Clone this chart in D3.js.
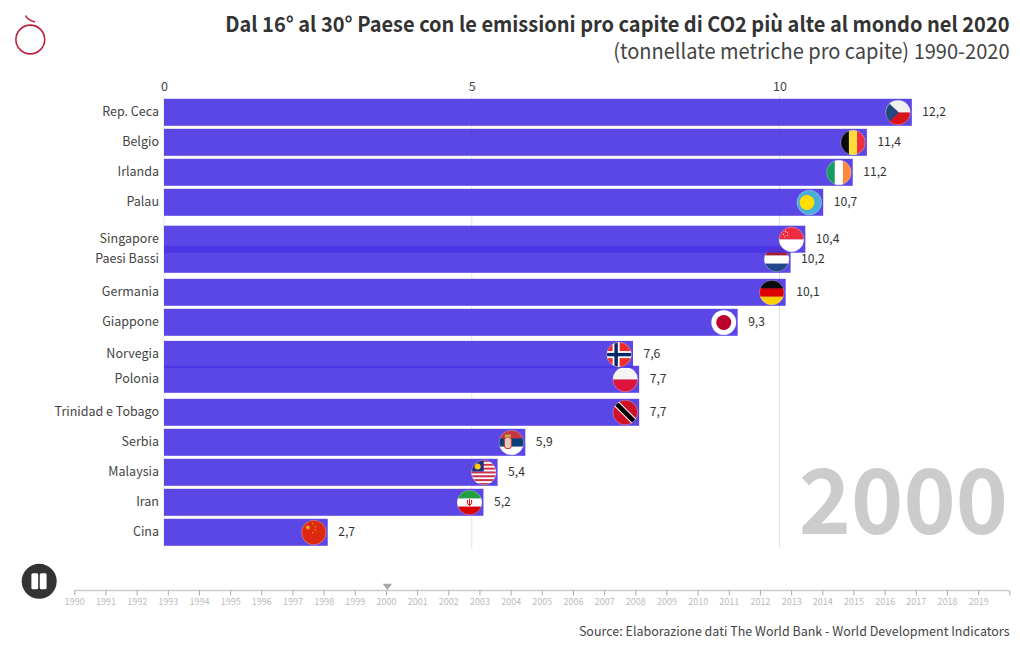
<!DOCTYPE html>
<html><head><meta charset="utf-8">
<script src="https://cdn.jsdelivr.net/npm/d3@7/dist/d3.min.js"></script>
<style>
html,body{margin:0;padding:0;background:#fff;overflow:hidden}
svg{display:block}
text{font-family:"Noto Sans CJK SC","Noto Sans",sans-serif}
</style></head><body><svg id="c" width="1020" height="650"></svg>
<script>
const countries=["Rep. Ceca","Belgio","Irlanda","Palau","Singapore","Paesi Bassi","Germania","Giappone","Norvegia","Polonia","Trinidad e Tobago","Serbia","Malaysia","Iran","Cina"];
const values=[12.15,11.42,11.19,10.71,10.42,10.18,10.1,9.32,7.62,7.72,7.72,5.87,5.42,5.19,2.66];
const valueLabels=["12,2","11,4","11,2","10,7","10,4","10,2","10,1","9,3","7,6","7,7","7,7","5,9","5,4","5,2","2,7"];
const ranks=[0,1,2,3,4.23,4.9,6,7,8.07,8.9,10,11,12,13,14];
const flagKeys=["cz","be","ie","pw","sg","nl","de","jp","no","pl","tt","rs","my","ir","cn"];
const axisTicks=[0,5,10];
const timelineYears=d3.range(1990,2021);
const currentYear=2000;

const svg=d3.select("#c");
const x=d3.scaleLinear().domain([0,10]).range([164,779.5]);
const y=d3.scaleLinear().domain([0,14]).range([112.3,532.3]);
const t=d3.scaleLinear().domain([1990,2020]).range([74.3,1009.3]);
const barH=27, flagR=12.3;

// narrow text horizontally so the wider installed Latin matches the reference set width
function squeeze(sel,f){sel.each(function(){const e=d3.select(this),a=+e.attr("x"),b=+e.attr("y");e.attr("x",0).attr("y",0).attr("transform",`translate(${a},${b}) scale(${f},1)`);});return sel;}

// title
const title=svg.append("g").attr("text-anchor","end");
squeeze(title.append("text").attr("x",1009.5).attr("y",32).attr("font-size",21).attr("font-weight",700).attr("fill","#333").text("Dal 16° al 30° Paese con le emissioni pro capite di CO2 più alte al mondo nel 2020"),.952);
squeeze(title.append("text").attr("x",1009.5).attr("y",59).attr("font-size",21).attr("fill","#444").text("(tonnellate metriche pro capite) 1990-2020"),.954);

// logo
const logo=svg.append("g").attr("fill","none").attr("stroke","#c2203f").attr("stroke-width",1.6);
logo.append("circle").attr("cx",30.3).attr("cy",39.5).attr("r",14.4);
logo.append("path").attr("d","M25.5 15.5Q27.5 20 35 22");

// grid + axis
const grid=svg.append("g");
grid.selectAll("line").data(axisTicks).join("line")
 .attr("x1",d=>x(d)).attr("x2",d=>x(d)).attr("y1",96).attr("y2",548).attr("stroke","#e2e2e2");
const ax=svg.append("g").attr("transform","translate(0,96)").call(d3.axisTop(x).tickValues(axisTicks).tickSize(0).tickPadding(5).tickFormat(d3.format("d")));
ax.select(".domain").remove();
ax.selectAll("text").attr("font-size",12.5).attr("fill","#444").style("font-family",'"Noto Sans CJK SC"');

// flags
const F=13;
function box(g,c){g.append("rect").attr("x",-F).attr("y",-F).attr("width",2*F).attr("height",2*F).attr("fill",c);}
function stripesH(g,cols){const h=2*flagR/cols.length;cols.forEach((c,i)=>g.append("rect").attr("x",-F).attr("y",-flagR+i*h).attr("width",2*F).attr("height",h+.3).attr("fill",c));}
function stripesV(g,cols){const w=2*flagR/cols.length;cols.forEach((c,i)=>g.append("rect").attr("x",-flagR+i*w).attr("y",-F).attr("width",w+.3).attr("height",2*F).attr("fill",c));}
function star(g,cx,cy,r,fill){const p=d3.range(10).map(i=>{const a=-Math.PI/2+i*Math.PI/5,q=i%2?r*.42:r;return [cx+q*Math.cos(a),cy+q*Math.sin(a)].join(",")}).join(" ");g.append("polygon").attr("points",p).attr("fill",fill);}
const flags={
 cz(g){stripesH(g,["#f0f0f0","#d7141a"]);g.append("path").attr("d","M-13-13L1 0L-13 13Z").attr("fill","#24477f");},
 be(g){stripesV(g,["#0b0b0b","#fbdc3c","#ee2f3c"]);},
 ie(g){stripesV(g,["#169b62","#fff","#ff883e"]);},
 pw(g){box(g,"#4aaed9");g.append("circle").attr("cx",-2.3).attr("cy",0).attr("r",7.4).attr("fill","#ffde00");},
 sg(g){stripesH(g,["#ef2b40","#fff"]);[[-8,-5],[-6,-8],[-4,-7],[-4,-4],[-7,-2.5]].forEach(p=>g.append("circle").attr("cx",p[0]).attr("cy",p[1]).attr("r",.7).attr("fill","#fbd5d5"));},
 nl(g){stripesH(g,["#ae1c28","#fff","#21468b"]);},
 de(g){stripesH(g,["#0b0b0b","#dd0000","#ffce00"]);},
 jp(g){box(g,"#fff");g.append("circle").attr("r",7.5).attr("fill","#bc002d");},
 no(g){box(g,"#ef2b2d");g.append("rect").attr("x",-6.5).attr("y",-13).attr("width",7).attr("height",26).attr("fill","#fff");g.append("rect").attr("x",-13).attr("y",-3.5).attr("width",26).attr("height",7).attr("fill","#fff");g.append("rect").attr("x",-4.7).attr("y",-13).attr("width",3.4).attr("height",26).attr("fill","#002868");g.append("rect").attr("x",-13).attr("y",-1.7).attr("width",26).attr("height",3.4).attr("fill","#002868");},
 pl(g){stripesH(g,["#f4f4f4","#dc143c"]);},
 tt(g){box(g,"#ce1126");g.append("path").attr("d","M-12-12L12 12").attr("stroke","#fff").attr("stroke-width",6.6);g.append("path").attr("d","M-12-12L12 12").attr("stroke","#000").attr("stroke-width",4.6);},
 rs(g){stripesH(g,["#c6363c","#0c4076","#fff"]);g.append("rect").attr("x",-7).attr("y",-5).attr("width",7).attr("height",11).attr("rx",2.5).attr("fill","#e7c9b8").attr("stroke","#c6363c").attr("stroke-width",1);g.append("rect").attr("x",-6.5).attr("y",-8).attr("width",6).attr("height",3).attr("fill","#c9a24a");},
 my(g){const n=13,h=25/n;d3.range(n).forEach(i=>g.append("rect").attr("x",-13).attr("y",-12.5+i*h).attr("width",26).attr("height",h+.2).attr("fill",i%2?"#fff":"#d83040"));g.append("rect").attr("x",-13).attr("y",-13).attr("width",13).attr("height",12).attr("fill","#1a2f7f");g.append("circle").attr("cx",-6).attr("cy",-6).attr("r",3).attr("fill","#ffc50f");},
 ir(g){stripesH(g,["#239f40","#fff","#da0000"]);g.append("path").attr("d","M0-3.5V3.5M-2-2.5Q-3.4 1 0 3M2-2.5Q3.4 1 0 3").attr("fill","none").attr("stroke","#da0000").attr("stroke-width",1);},
 cn(g){box(g,"#de2910");star(g,-6,-5,3,"#e8b81c");star(g,-1,-9,1.1,"#e8b81c");star(g,1.5,-6,1.1,"#e8b81c");star(g,1.5,-2.5,1.1,"#e8b81c");star(g,-1,0,1.1,"#e8b81c");}
};
svg.append("defs").append("clipPath").attr("id","fc").append("circle").attr("r",flagR);

// rows: each bar + flag painted together, lowest rows first, so a later bar tints the flag it overlaps
const rows=countries.map((c,i)=>({c,v:values[i],l:valueLabels[i],r:ranks[i],f:flagKeys[i]})).reverse();
const gr=svg.append("g").selectAll("g").data(rows).join("g");
gr.append("rect")
 .attr("x",x(0)).attr("width",d=>x(d.v)-x(0)).attr("y",d=>y(d.r)-barH/2).attr("height",barH)
 .attr("fill","#4933e3").attr("fill-opacity",.9);
const fg=gr.append("g").attr("transform",d=>`translate(${x(d.v)-13.9},${y(d.r)+.2})`);
fg.each(function(d){const g=d3.select(this);const inner=g.append("g").attr("clip-path","url(#fc)");flags[d.f](inner);g.append("circle").attr("r",flagR).attr("fill","none").attr("stroke","#fff").attr("stroke-opacity",.3);});

const labs=svg.append("g").attr("text-anchor","end").attr("font-size",13).attr("fill","#444");
squeeze(labs.selectAll("text").data(rows).join("text").attr("x",159).attr("y",d=>y(d.r)+3.6).text(d=>d.c),.963);
const vals=svg.append("g").attr("font-size",12.5).attr("fill","#333");
squeeze(vals.selectAll("text").data(rows).join("text").attr("x",d=>x(d.v)+10.5).attr("y",d=>y(d.r)+3.8).text(d=>d.l),.97);

// big year
squeeze(svg.append("text").attr("x",1008).attr("y",533.5).attr("text-anchor","end").attr("font-size",90).attr("font-weight",700).attr("fill","#ccc").text(currentYear),.985);

// pause button
svg.append("circle").attr("cx",39.2).attr("cy",581.3).attr("r",17.5).attr("fill","#333");
[31.4,39.8].forEach(bx=>svg.append("rect").attr("x",bx).attr("y",573.3).attr("width",6.8).attr("height",16).attr("rx",1.5).attr("fill","#fff"));

// timeline
const tl=svg.append("g").attr("transform","translate(0,590.5)");
const ta=d3.axisBottom(t).tickValues(timelineYears).tickSize(5).tickPadding(3.5).tickFormat(d=>d===2020?"":d3.format("d")(d));
tl.call(ta);
tl.select(".domain").attr("stroke","#ccc").attr("stroke-width",1.5).attr("d",`M${t(1990)},0H${t(2020)}`);
tl.selectAll(".tick line").attr("stroke","#aaa");
tl.selectAll(".tick text").attr("font-size",9).attr("fill","#bbb").style("font-family",'"Noto Sans CJK SC"');
const mx=t(currentYear)+1.4;
svg.append("path").attr("d",`M${mx-4.7},583.7H${mx+4.7}L${mx},590Z`).attr("fill","#a6a6a6");

squeeze(svg.append("text").attr("x",1009.5).attr("y",636).attr("text-anchor","end").attr("font-size",13).attr("fill","#444").text("Source: Elaborazione dati The World Bank - World Development Indicators"),.962);
</script></body></html>
